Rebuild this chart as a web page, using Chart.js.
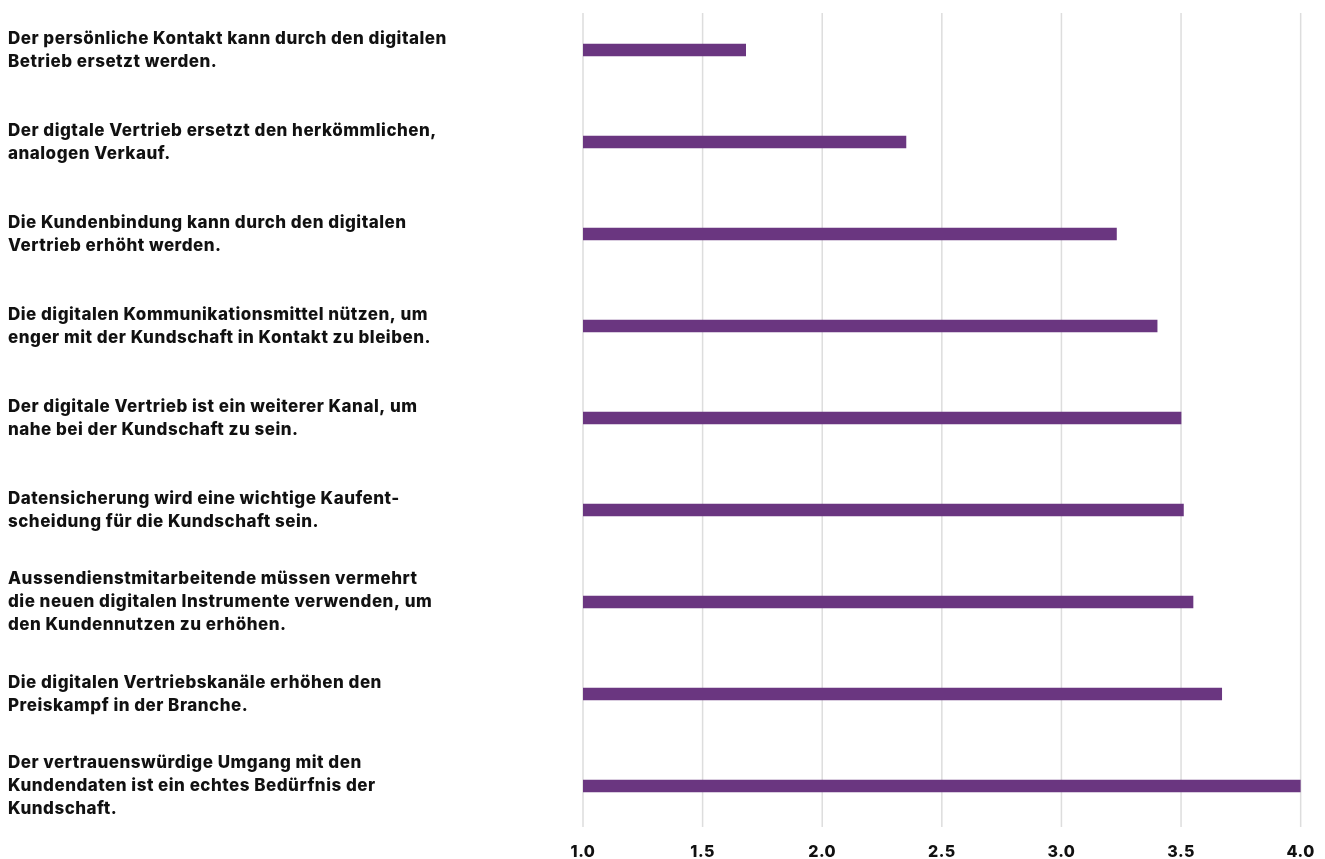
<!DOCTYPE html>
<html>
<head>
<meta charset="utf-8">
<script src="https://cdn.jsdelivr.net/npm/chart.js@4/dist/chart.umd.min.js"></script>
<style>
  html, body { margin: 0; padding: 0; background: #fff; }
  #wrap { width: 1325px; height: 859px; position: relative; }
</style>
</head>
<body>
<div id="wrap"><canvas id="chart"></canvas></div>
<script>
var BAR_COLOR = '#6a3680';
var FONT = 'Inter';

var statements = [
	['Der persönliche Kontakt kann durch den digitalen', 'Betrieb ersetzt werden.'],
	['Der digtale Vertrieb ersetzt den herkömmlichen,', 'analogen Verkauf.'],
	['Die Kundenbindung kann durch den digitalen', 'Vertrieb erhöht werden.'],
	['Die digitalen Kommunikationsmittel nützen, um', 'enger mit der Kundschaft in Kontakt zu bleiben.'],
	['Der digitale Vertrieb ist ein weiterer Kanal, um', 'nahe bei der Kundschaft zu sein.'],
	['Datensicherung wird eine wichtige Kaufent-', 'scheidung für die Kundschaft sein.'],
	['Aussendienstmitarbeitende müssen vermehrt', 'die neuen digitalen Instrumente verwenden, um', 'den Kundennutzen zu erhöhen.'],
	['Die digitalen Vertriebskanäle erhöhen den', 'Preiskampf in der Branche.'],
	['Der vertrauenswürdige Umgang mit den', 'Kundendaten ist ein echtes Bedürfnis der', 'Kundschaft.']
];

var agreement = [1.68, 2.35, 3.23, 3.40, 3.50, 3.51, 3.55, 3.67, 4.00];

var scaleMin = 1;
var scaleMax = 4;
var scaleStep = 0.5;

// wider letters, the original font runs wider than Inter
var spacing = {
	id: 'spacing',
	beforeDraw: function(chart) {
		chart.ctx.letterSpacing = '0.5px';
	}
};

// vertical grid lines, a bit shorter than the plot area
var gridLines = {
	id: 'gridLines',
	beforeDatasetsDraw: function(chart) {
		var ctx = chart.ctx;
		var xs = chart.scales.x;
		var area = chart.chartArea;
		ctx.save();
		ctx.strokeStyle = '#dddddd';
		ctx.lineWidth = 1.5;
		xs.ticks.forEach(function(t) {
			var px = xs.getPixelForValue(t.value);
			ctx.beginPath();
			ctx.moveTo(px, area.top + 9);
			ctx.lineTo(px, area.bottom - 5);
			ctx.stroke();
		});
		ctx.restore();
	}
};

new Chart(document.getElementById('chart'), {
	type: 'bar',
	data: {
		labels: statements,
		datasets: [{
			data: agreement,
			backgroundColor: BAR_COLOR,
			barThickness: 12,
			borderWidth: 0
		}]
	},
	options: {
		indexAxis: 'y',
		responsive: true,
		maintainAspectRatio: false,
		animation: false,
		layout: { padding: { left: 8, right: 18, top: 4, bottom: 0 } },
		plugins: {
			legend: { display: false },
			tooltip: { enabled: false }
		},
		scales: {
			x: {
				min: scaleMin,
				max: scaleMax,
				border: { display: false },
				grid: { display: false, drawTicks: false },
				ticks: {
					stepSize: scaleStep,
					padding: 11,
					color: '#111',
					font: { family: FONT, size: 16, weight: 800 },
					callback: function(v) { return Number(v).toFixed(1); }
				},
				afterFit: function(scale) { scale.height = 27; }
			},
			y: {
				border: { display: false },
				grid: { display: false, drawTicks: false },
				ticks: {
					crossAlign: 'far',
					padding: 0,
					color: '#111',
					font: { family: FONT, size: 17, weight: 800, lineHeight: '23px' }
				},
				afterFit: function(scale) {
					scale.width = 575;
					scale.paddingTop = 0;
					scale.paddingBottom = 0;
				}
			}
		}
	},
	plugins: [spacing, gridLines]
});
</script>
</body>
</html>
